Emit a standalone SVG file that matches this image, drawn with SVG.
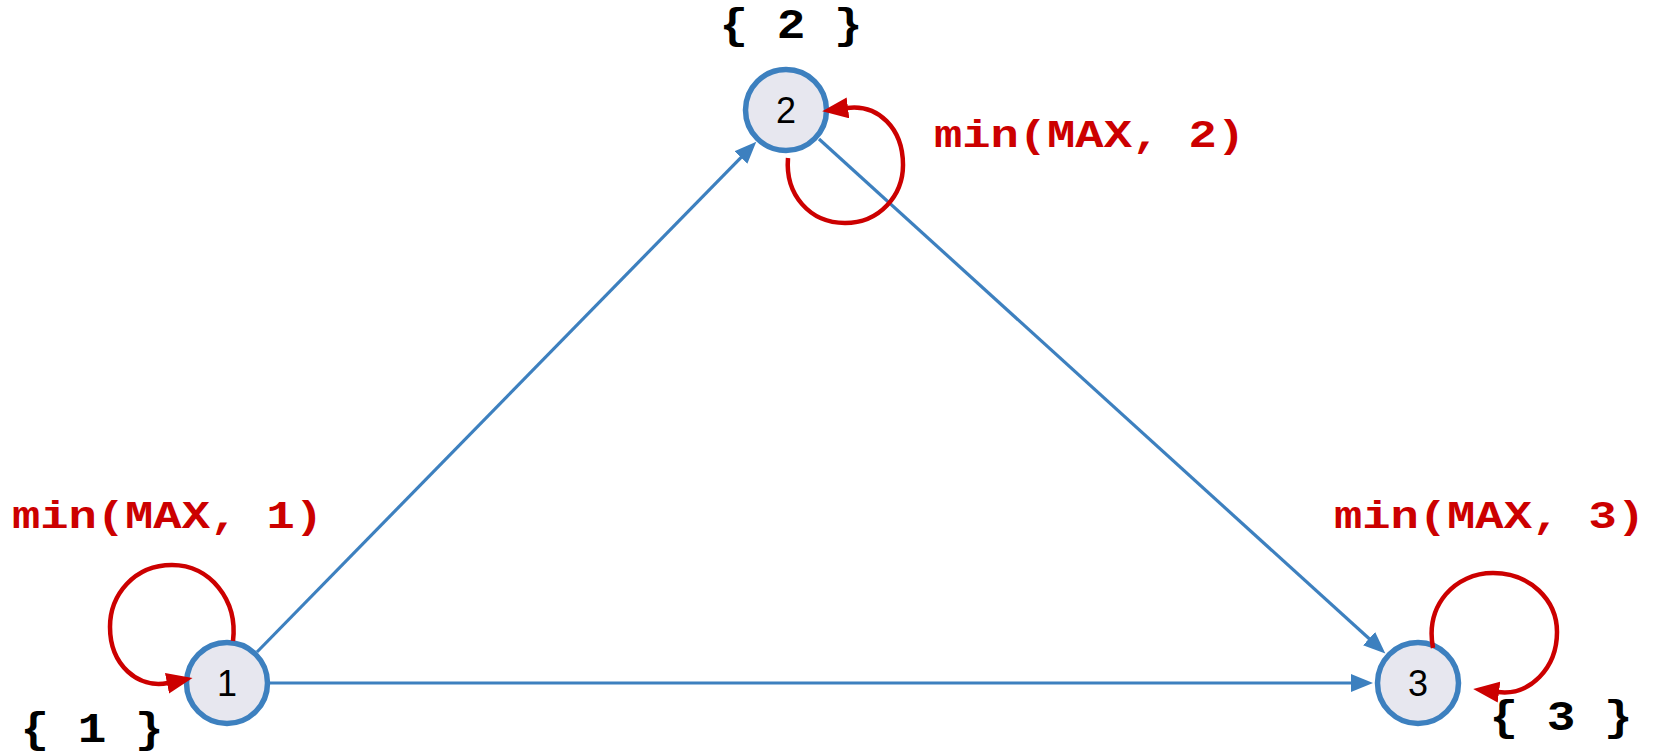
<svg xmlns="http://www.w3.org/2000/svg" width="1657" height="754" viewBox="0 0 1657 754">
<style>
.node{fill:#e7e7ef;stroke:#3d80bf;stroke-width:5.5}
.set{font-family:"Liberation Mono","Courier New",monospace;font-weight:bold;font-size:43px;fill:#000;text-anchor:middle}
.edge{fill:none;stroke:#3d80bf;stroke-width:3.2}
.loop{fill:none;stroke:#cc0000;stroke-width:4.5}
.llabel{font-family:"Liberation Mono","Courier New",monospace;font-weight:bold;font-size:38px;fill:#cc0000}
</style>
<defs>
<marker id="blueArrow" markerUnits="userSpaceOnUse" markerWidth="24" markerHeight="20" refX="1" refY="9" orient="auto">
<path d="M0,0 L22,9 L0,18 z" fill="#3d80bf"/>
</marker>
<marker id="redArrow" markerUnits="userSpaceOnUse" markerWidth="28" markerHeight="22" refX="1" refY="10.5" orient="auto">
<path d="M0,0 L26,10.5 L0,21 z" fill="#cc0000"/>
</marker>
</defs>
<rect width="1657" height="754" fill="#ffffff"/>
<g id="node1">
<circle class="node" cx="227" cy="683" r="40.5"/>
<text x="227" y="696" font-family="Arial, 'Liberation Sans', sans-serif" font-size="36" text-anchor="middle" fill="#000">1</text>
<text class="set" x="92" y="742" textLength="143" lengthAdjust="spacingAndGlyphs">{ 1 }</text>
</g>
<g id="node2">
<circle class="node" cx="786" cy="110" r="40.5"/>
<text x="786" y="123" font-family="Arial, 'Liberation Sans', sans-serif" font-size="36" text-anchor="middle" fill="#000">2</text>
<text class="set" x="791" y="38" textLength="143" lengthAdjust="spacingAndGlyphs">{ 2 }</text>
</g>
<g id="node3">
<circle class="node" cx="1418" cy="683" r="40.5"/>
<text x="1418" y="696" font-family="Arial, 'Liberation Sans', sans-serif" font-size="36" text-anchor="middle" fill="#000">3</text>
<text class="set" x="1561" y="730" textLength="143" lengthAdjust="spacingAndGlyphs">{ 3 }</text>
</g>
<g id="connectors">
<path class="edge" d="M257 652 L741.6 156.8" marker-end="url(#blueArrow)"/>
<path class="edge" d="M819 139 L1369.8 639.3" marker-end="url(#blueArrow)"/>
<path class="edge" d="M270 683 L1352 683" marker-end="url(#blueArrow)"/>
<path class="loop" d="M233 641 C238 600 210 565 172 565 C134 565 110 595 110 627 C110 665 138 689 168 683" marker-end="url(#redArrow)"/>
<path class="loop" d="M788 158 C785 195 810 223 845 223 C880 223 903 195 903 165 C903 128 878 104 847 108" marker-end="url(#redArrow)"/>
<path class="loop" d="M1433 648 C1425 605 1455 573 1493 573 C1530 573 1557 600 1557 632 C1557 668 1530 696 1498 692" marker-end="url(#redArrow)"/>
<text class="llabel" x="12" y="528" textLength="311" lengthAdjust="spacingAndGlyphs">min(MAX, 1)</text>
<text class="llabel" x="934" y="147" textLength="311" lengthAdjust="spacingAndGlyphs">min(MAX, 2)</text>
<text class="llabel" x="1334" y="528" textLength="311" lengthAdjust="spacingAndGlyphs">min(MAX, 3)</text>
</g>
</svg>
